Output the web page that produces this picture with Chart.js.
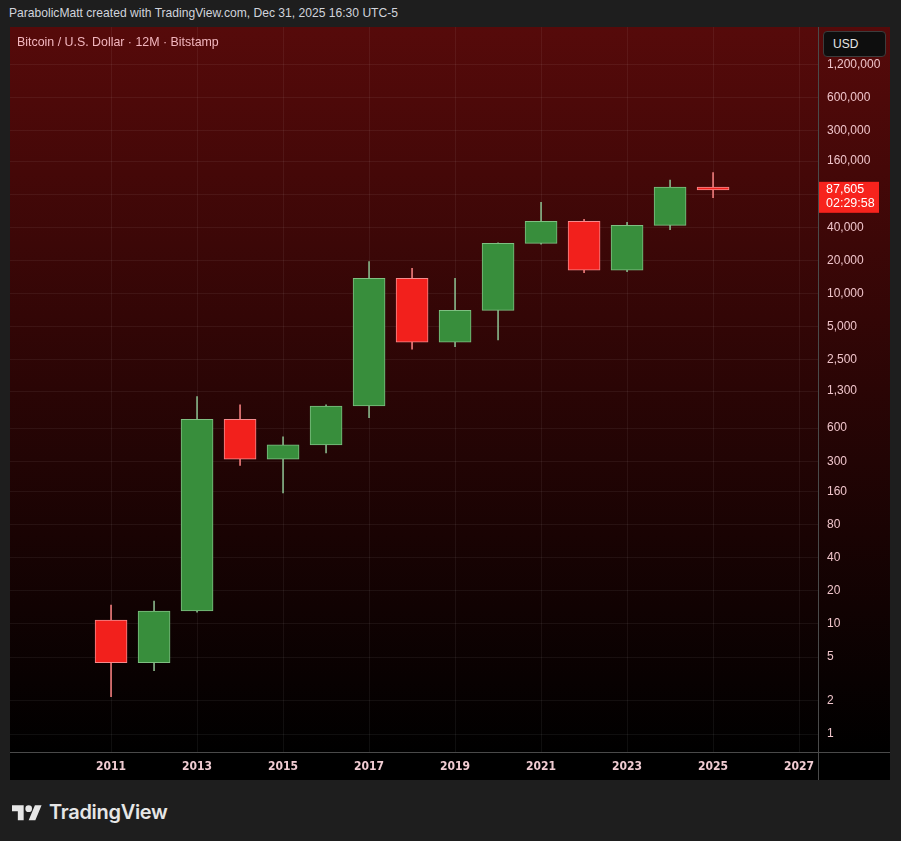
<!DOCTYPE html>
<html>
<head>
<meta charset="utf-8">
<script src="https://cdn.jsdelivr.net/npm/chart.js@4"></script>
<style>
  html, body { margin: 0; padding: 0; }
  body { width: 901px; height: 841px; background: #1e1e1e; position: relative; overflow: hidden;
         font-family: "Liberation Sans", Arial, sans-serif; }
  #header { position: absolute; left: 9px; top: 6px; font-size: 12.1px; color: #d1d4dc; }
  #panelBg { position: absolute; left: 10px; top: 27px; width: 880px; height: 725px;
             background: linear-gradient(to bottom, #560a0a 0%, #2a0505 50%, #000 100%); }
  #timeBg { position: absolute; left: 10px; top: 752px; width: 880px; height: 28px; background: #000;
            border-top: 1px solid #4a4a4a; box-sizing: border-box; }
  #vsep { position: absolute; left: 818px; top: 27px; width: 1px; height: 753px; background: #4a4a4a; }
  #wrap { position: absolute; left: 10px; top: 27px; width: 880px; height: 753px; }
  #legend { position: absolute; left: 17px; top: 35px; font-size: 12.4px; color: #f2b6be; }
  #usd { position: absolute; left: 823px; top: 31px; width: 63px; height: 26px; box-sizing: border-box;
         background: #0e0e0e; border: 1px solid #3c3c3c; border-radius: 4px; color: #e6e6e6;
         font-size: 12px; line-height: 24px; padding-left: 9px; }
  #logo { position: absolute; left: 12px; top: 800px; display: flex; align-items: center; }
  #logo span { font-family: Inter, "Noto Sans", sans-serif; font-weight: 600; font-size: 20px;
               color: #e6e6e6; margin-left: 7px; letter-spacing: -0.3px; }
</style>
</head>
<body>
<div id="header">ParabolicMatt created with TradingView.com, Dec 31, 2025 16:30 UTC-5</div>
<div id="panelBg"></div>
<div id="timeBg"></div>
<div id="wrap"><canvas id="chart" width="880" height="753"></canvas></div>
<div id="vsep"></div>
<div id="legend">Bitcoin / U.S. Dollar · 12M · Bitstamp</div>
<div id="usd">USD</div>
<div id="logo">
  <svg width="30" height="20" viewBox="0 0 36 24">
    <path fill="#e6e6e6" d="M14 22H7V11H0V4h14v18zM28 22h-8l7.5-18h8L28 22z"/>
    <circle fill="#e6e6e6" cx="20" cy="8" r="4"/>
  </svg>
  <span>TradingView</span>
</div>
<script>
// yearly candles
const years  = [2011, 2012, 2013, 2014, 2015, 2016, 2017, 2018, 2019, 2020, 2021, 2022, 2023, 2024, 2025];
const opens  = [10.85, 4.45, 13.1, 721, 313, 422, 953, 13770, 3612, 7050, 28630, 45370, 16280, 41700, 92950];
const closes = [4.45, 13.1, 721, 313, 422, 953, 13770, 3612, 7050, 28630, 45370, 16280, 41700, 92950, 87605];
const highs  = [14.85, 16.1, 1158, 975, 501, 975, 19490, 16980, 13770, 28900, 67460, 47300, 44450, 107600, 125400];
const lows   = [2.18, 3.76, 12.8, 275, 154.5, 357, 746, 3120, 3296, 3790, 28050, 15490, 15800, 38050, 74300];

const priceTicks = [1, 2, 5, 10, 20, 40, 80, 160, 300, 600, 1300, 2500, 5000, 10000, 20000, 40000, 80000, 160000, 300000, 600000, 1200000];
const yearTicks = [2011, 2013, 2015, 2017, 2019, 2021, 2023, 2025, 2027];
const lastPrice = 87605;
const countdown = "02:29:58";

const upFill = "#388e3c", upEdge = "#7fbf82", upWick = "#86b488";
const dnFill = "#f2201c", dnEdge = "#f58a8c", dnWick = "#ec7a7a";
const isUp = i => closes[i] >= opens[i];

// price label on the axis
const priceTag = {
  id: "priceTag",
  afterDraw(chart) {
    const { ctx, scales: { y } } = chart;
    const py = y.getPixelForValue(lastPrice);
    const x0 = y.left + 1;
    ctx.save();
    ctx.fillStyle = "#f7231d";
    ctx.fillRect(x0, py - 8, 60, 31);
    ctx.fillStyle = "#ffffff";
    ctx.font = "12.5px 'Liberation Sans', Arial, sans-serif";
    ctx.textBaseline = "middle";
    ctx.fillText(lastPrice.toLocaleString("en-US"), x0 + 7, py);
    ctx.fillText(countdown, x0 + 7, py + 14);
    ctx.restore();
  }
};

new Chart(document.getElementById("chart"), {
  type: "bar",
  data: {
    datasets: [
      {
        label: "body",
        order: 0,
        grouped: false,
        data: years.map((yr, i) => ({ x: yr, y: [opens[i], closes[i]] })),
        backgroundColor: c => isUp(c.dataIndex) ? upFill : dnFill,
        borderColor: c => isUp(c.dataIndex) ? upEdge : dnEdge,
        borderWidth: 1,
        borderSkipped: false,
        barThickness: 32
      },
      {
        label: "wick",
        order: 1,
        grouped: false,
        data: years.map((yr, i) => ({ x: yr, y: [lows[i], highs[i]] })),
        backgroundColor: c => isUp(c.dataIndex) ? upWick : dnWick,
        borderWidth: 0,
        barThickness: 1
      }
    ]
  },
  options: {
    responsive: false,
    animation: false,
    layout: { padding: 0 },
    plugins: { legend: { display: false }, tooltip: { enabled: false } },
    scales: {
      x: {
        type: "linear",
        bounds: "data",
        offset: false,
        min: 2008.65,
        max: 2027.44,
        afterBuildTicks: s => { s.ticks = yearTicks.map(v => ({ value: v })); },
        afterFit: s => { s.height = 28; s.paddingLeft = 0; s.paddingRight = 0; },
        grid: { color: "rgba(255,255,255,0.06)", drawTicks: false, offset: false },
        border: { display: false },
        ticks: {
          color: "#f0ccd2",
          padding: 8,
          maxRotation: 0,
          autoSkip: false,
          font: { family: "'DejaVu Sans Condensed', 'Liberation Sans', sans-serif", size: 12, weight: "bold" },
          callback: v => String(v)
        }
      },
      y: {
        type: "logarithmic",
        position: "right",
        bounds: "data",
        min: 0.6865,
        max: 2638000,
        afterBuildTicks: s => { s.ticks = priceTicks.map(v => ({ value: v })); },
        afterFit: s => { s.width = 72; s.paddingTop = 0; s.paddingBottom = 0; },
        grid: { color: "rgba(255,255,255,0.06)", drawTicks: false },
        border: { display: false },
        ticks: {
          color: "#efc4ca",
          padding: 9,
          autoSkip: false,
          font: { family: "'Liberation Sans', Arial, sans-serif", size: 12 },
          callback: v => Number(v).toLocaleString("en-US")
        }
      }
    }
  },
  plugins: [priceTag]
});
</script>
</body>
</html>
